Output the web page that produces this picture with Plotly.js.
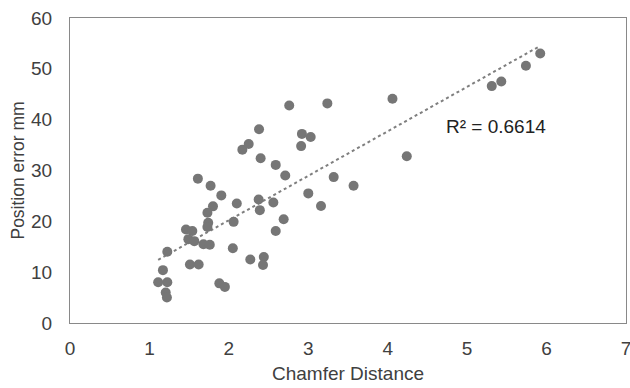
<!DOCTYPE html>
<html>
<head>
<meta charset="utf-8">
<script src="https://cdn.plot.ly/plotly-3.0.1.min.js"></script>
<style>html,body{margin:0;padding:0;background:#fff;}#chart{width:630px;height:388px;}</style>
</head>
<body>
<div id="chart"></div>
<script>
const chamferDistance = [1.11,1.225,1.17,1.205,1.22,1.225,1.46,1.54,1.49,1.565,1.68,1.76,1.51,1.62,1.61,1.77,1.905,1.80,1.73,1.74,1.73,1.88,1.95,2.05,2.06,2.10,2.17,2.25,2.27,2.38,2.375,2.39,2.40,2.44,2.43,2.56,2.59,2.59,2.69,2.71,2.76,2.91,2.92,3.00,3.03,3.16,3.24,3.32,3.57,4.06,4.24,5.31,5.43,5.74,5.92];
const positionError = [8.0,8.0,10.4,6.0,5.0,14.0,18.4,18.1,16.5,16.1,15.5,15.4,11.5,11.5,28.4,27.0,25.1,22.95,21.7,19.7,18.9,7.8,7.1,14.7,19.9,23.5,34.1,35.2,12.5,38.1,24.3,22.2,32.4,13.0,11.4,23.7,31.1,18.1,20.4,29.0,42.8,34.8,37.2,25.5,36.6,23.0,43.2,28.7,27.0,44.1,32.8,46.6,47.5,50.6,53.0];
const r2Label = "R² = 0.6614";

// least-squares linear trendline
const n = chamferDistance.length;
let sx=0, sy=0, sxx=0, sxy=0;
for (let i=0;i<n;i++){sx+=chamferDistance[i];sy+=positionError[i];sxx+=chamferDistance[i]*chamferDistance[i];sxy+=chamferDistance[i]*positionError[i];}
const slope = (n*sxy - sx*sy)/(n*sxx - sx*sx);
const intercept = (sy - slope*sx)/n;
const xMin = Math.min(...chamferDistance), xMax = Math.max(...chamferDistance);
const trendX = [xMin, xMax];
const trendY = trendX.map(x => intercept + slope*x);

const textColor = '#404040';
const fontFam = 'Liberation Sans, Arial, sans-serif';

const traces = [
  {x: trendX, y: trendY, mode: 'lines', type: 'scatter',
   line: {color: '#7f7f7f', width: 2, dash: 'dot'}, hoverinfo: 'skip'},
  {x: chamferDistance, y: positionError, mode: 'markers', type: 'scatter',
   marker: {color: '#767676', size: 10}}
];

const layout = {
  width: 630, height: 388,
  margin: {l: 70, r: 4, t: 18, b: 65},
  paper_bgcolor: '#ffffff', plot_bgcolor: '#ffffff',
  showlegend: false,
  font: {family: fontFam, size: 19, color: textColor},
  xaxis: {
    range: [0, 7], dtick: 1, tick0: 0, showgrid: false, zeroline: false,
    showline: true, linecolor: '#898989', linewidth: 1, mirror: true,
    ticks: '', ticklen: 0, ticklabelstandoff: 8, ticklabeloverflow: 'allow',
    automargin: false,
    tickfont: {family: fontFam, size: 19, color: textColor},
    title: {text: 'Chamfer Distance', font: {family: fontFam, size: 19, color: textColor}, standoff: 8}
  },
  yaxis: {
    range: [0, 60], dtick: 10, tick0: 0, showgrid: false, zeroline: false,
    showline: true, linecolor: '#898989', linewidth: 1, mirror: true,
    ticks: '', ticklen: 0, ticklabelstandoff: 13,
    automargin: false,
    tickfont: {family: fontFam, size: 19, color: textColor},
    title: {text: 'Position error mm', font: {family: fontFam, size: 17.5, color: textColor}, standoff: 1}
  },
  annotations: [{
    x: 5.36, y: 38.6, xref: 'x', yref: 'y', text: r2Label, showarrow: false,
    font: {family: fontFam, size: 19, color: '#222222'}
  }]
};

Plotly.newPlot('chart', traces, layout, {staticPlot: true, displayModeBar: false});
</script>
</body>
</html>
